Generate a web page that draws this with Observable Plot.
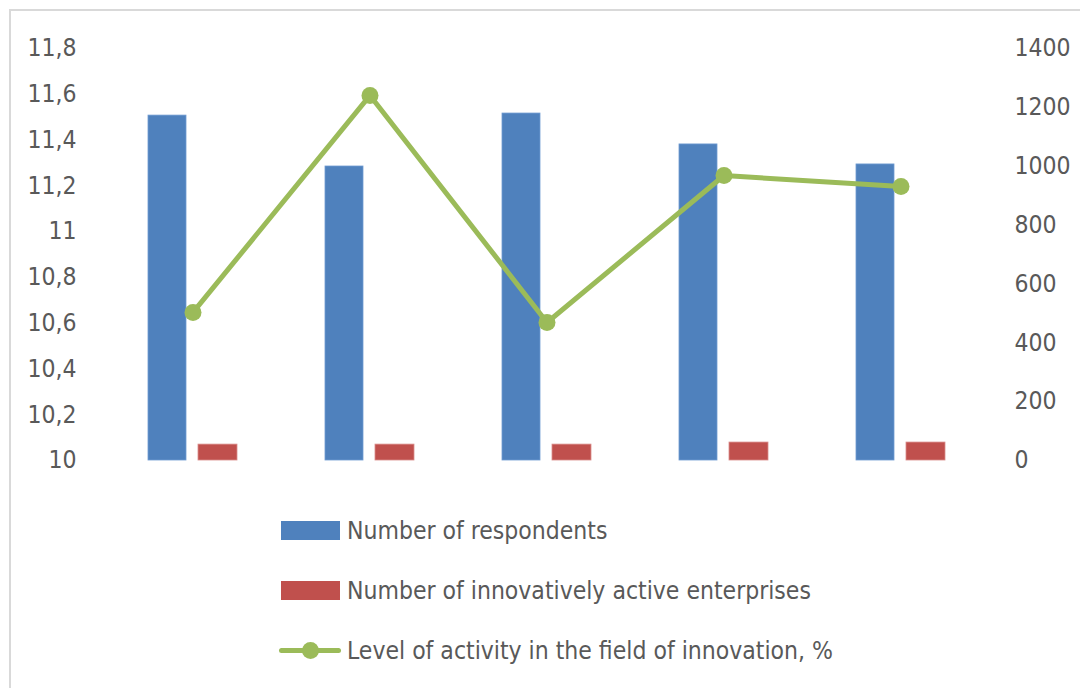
<!DOCTYPE html>
<html>
<head>
<meta charset="utf-8">
<script src="https://cdn.jsdelivr.net/npm/d3@7"></script>
<script src="https://cdn.jsdelivr.net/npm/@observablehq/plot@0.6"></script>
<style>
  html, body { margin: 0; padding: 0; background: #fff; overflow: hidden; width: 1080px; height: 688px; }
  #frame { position: absolute; left: 9px; top: 9px; width: 1100px; height: 700px; border: 2px solid #d9d9d9; box-sizing: border-box; }
  #chart { position: absolute; left: 0; top: 0; }
  .legend { position: absolute; left: 279px; font-family: "Liberation Sans Narrow", "DejaVu Sans Condensed", sans-serif; font-size: 24.5px; color: #595959; }
  .row { position: absolute; left: 0; height: 30px; display: flex; align-items: center; white-space: nowrap; }
  .sw { width: 59px; height: 19px; margin-left: 2px; margin-right: 7px; }
  .ln { position: relative; width: 62px; height: 19px; margin-right: 6px; }
  .ln .bar { position: absolute; left: 0; top: 7px; width: 62px; height: 5px; background: #9BBB59; border-radius: 3px; }
  .ln .dot { position: absolute; left: 23px; top: 1px; width: 17px; height: 17px; border-radius: 50%; background: #9BBB59; }
</style>
</head>
<body>
<div id="frame"></div>
<div id="chart"></div>
<div class="legend" id="legend"></div>
<script>
// ---- data ----
const categories = ["1", "2", "3", "4", "5"];
const respondents = [1172, 999, 1179, 1074, 1006];
const innovativeEnterprises = [54, 54, 54, 61, 61];
const activityLevel = [10.647, 11.595, 10.603, 11.245, 11.197];
const leftTicks = [10, 10.2, 10.4, 10.6, 10.8, 11, 11.2, 11.4, 11.6, 11.8];
const rightTicks = [0, 200, 400, 600, 800, 1000, 1200, 1400];
const seriesNames = [
  "Number of respondents",
  "Number of innovatively active enterprises",
  "Level of activity in the field of innovation, %"
];
const colors = ["#4F81BD", "#C0504D", "#9BBB59"];

// secondary (left) axis range mapped onto primary (right) axis domain
const leftMin = 10, leftMax = 11.8, rightMax = 1400;
const toPrimary = v => (v - leftMin) / (leftMax - leftMin) * rightMax;

const rows = categories.map((c, i) => ({
  cat: c,
  resp: respondents[i],
  innov: innovativeEnterprises[i],
  level: activityLevel[i],
  levelY: toPrimary(activityLevel[i])
}));

const fontFamily = '"Liberation Sans Narrow", "DejaVu Sans Condensed", sans-serif';
const fmtComma = v => String(+v.toFixed(1)).replace(".", ",");

const chart = Plot.plot({
  width: 1080,
  height: 490,
  marginLeft: 103,
  marginRight: 91,
  marginTop: 48,
  marginBottom: 30,
  style: { fontFamily, fontSize: "24.5px", color: "#595959", background: "transparent" },
  x: { domain: categories, padding: 0, axis: null },
  y: { domain: [0, rightMax], axis: null },
  marks: [
    Plot.axisY(leftTicks.map(toPrimary), {
      anchor: "left",
      tickSize: 0,
      tickPadding: 27,
      tickFormat: d => fmtComma(leftMin + d / rightMax * (leftMax - leftMin)),
      fill: "#595959",
      fontSize: 24.5,
      label: null
    }),
    Plot.axisY(rightTicks, {
      anchor: "right",
      tickSize: 0,
      tickPadding: 25,
      tickFormat: d => String(d),
      fill: "#595959",
      fontSize: 24.5,
      label: null
    }),
    Plot.barY(rows, { x: "cat", y: "resp", fill: colors[0], insetLeft: 44, insetRight: 95, stroke: "#6f9bd1", strokeWidth: 0.8 }),
    Plot.barY(rows, { x: "cat", y: "innov", fill: colors[1], insetLeft: 94, insetRight: 44, stroke: "#d98c8a", strokeWidth: 0.8 }),
    Plot.line(rows, { x: "cat", y: "levelY", stroke: colors[2], strokeWidth: 5, strokeLinejoin: "round", strokeLinecap: "round" }),
    Plot.dot(rows, { x: "cat", y: "levelY", fill: colors[2], r: 8.5 })
  ]
});
document.getElementById("chart").appendChild(chart);

// ---- legend ----
const legend = document.getElementById("legend");
const tops = [515, 575, 635];
seriesNames.forEach((name, i) => {
  const row = document.createElement("div");
  row.className = "row";
  row.style.top = tops[i] + "px";
  if (i < 2) {
    const sw = document.createElement("div");
    sw.className = "sw";
    sw.style.background = colors[i];
    row.appendChild(sw);
  } else {
    const ln = document.createElement("div");
    ln.className = "ln";
    ln.innerHTML = '<div class="bar"></div><div class="dot"></div>';
    row.appendChild(ln);
  }
  const t = document.createElement("span");
  t.textContent = name;
  row.appendChild(t);
  legend.appendChild(row);
});
</script>
</body>
</html>
